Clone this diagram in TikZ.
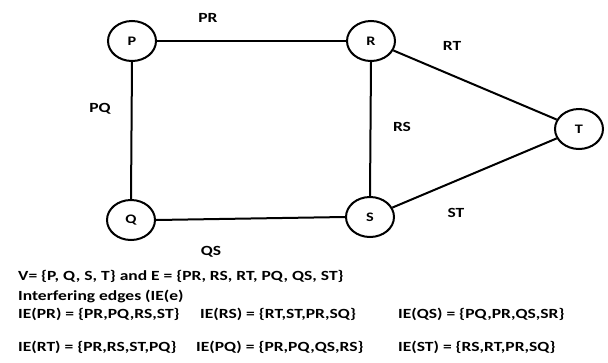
\documentclass[tikz,border=0pt]{standalone}
\usepackage{fontspec}
\setsansfont{Carlito}[FakeStretch=1.25]
\usetikzlibrary{positioning,shapes.geometric}

\begin{document}
\begin{tikzpicture}[x=1pt, y=-1pt,
vertexnode/.style={ellipse, draw=black, line width=2pt, minimum width=48pt, minimum height=40pt, inner sep=0pt, font=\sffamily\bfseries\fontsize{13}{15}\selectfont},
edgelabel/.style={font=\sffamily\bfseries\fontsize{14}{16}\selectfont, inner sep=0pt},
edgeline/.style={line width=2pt},
infoline/.style={anchor=west, font=\sffamily\bfseries\fontsize{14}{16}\selectfont, inner sep=0pt},
]
\useasboundingbox[fill=white] (0,0) rectangle (608,362);
%Nodes
\node[vertexnode]      (P)    at (132,41)   {P};
\node[vertexnode]      (Q)    at (131,220)  {Q};
\node[vertexnode]      (R)    at (371,41)   {R};
\node[vertexnode]      (S)    at (370,217)  {S};
\node[vertexnode]      (T)    at (579,129)  {T};

%Edge labels
\node[edgelabel]       (labPR)  at (208,18)  {PR};
\node[edgelabel]       (labPQ)  at (100,109) {PQ};
\node[edgelabel]       (labRT)  at (452,46)  {RT};
\node[edgelabel]       (labRS)  at (402,127) {RS};
\node[edgelabel]       (labST)  at (456,213) {ST};
\node[edgelabel]       (labQS)  at (211,252) {QS};

%Lines
\draw[edgeline] (P.east) -- (R.west);
\draw[edgeline] (P.south) -- (Q.north);
\draw[edgeline] (Q.east) -- (S.west);
\draw[edgeline] (R.south) -- (S.north);
\draw[edgeline] (R) -- (T);
\draw[edgeline] (S) -- (T);

%Text
\node[infoline]  (sets)   at (18,276) {V= \{P, Q, S, T\} and E = \{PR, RS, RT, PQ, QS, ST\}};
\node[infoline]  (title)  at (18,296) {Interfering edges (IE(e)};
\node[infoline]  (iePR)   at (18,314) {IE(PR) = \{PR,PQ,RS,ST\}};
\node[infoline]  (ieRS)   at (200,314) {IE(RS) = \{RT,ST,PR,SQ\}};
\node[infoline]  (ieQS)   at (398,314) {IE(QS) = \{PQ,PR,QS,SR\}};
\node[infoline]  (ieRT)   at (18,347) {IE(RT) = \{PR,RS,ST,PQ\}};
\node[infoline]  (iePQ)   at (196,347) {IE(PQ) = \{PR,PQ,QS,RS\}};
\node[infoline]  (ieST)   at (398,347) {IE(ST) = \{RS,RT,PR,SQ\}};
\end{tikzpicture}
\end{document}
